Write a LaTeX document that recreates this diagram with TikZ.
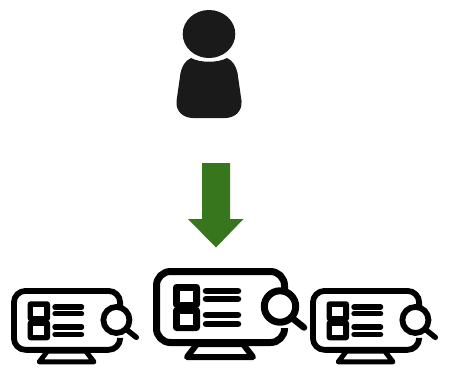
\documentclass[tikz,border=0pt]{standalone}
\definecolor{personc}{HTML}{1A1A1A}
\definecolor{arrowc}{HTML}{38761D}
\newcommand{\monitoricon}[3]{%
  \begin{scope}[shift={(#1,#2)},scale=#3]
    \pgfmathsetmacro{\ms}{#3}
    \tikzset{mline/.style={line width=\ms*7pt},sline/.style={line width=\ms*6.5pt,line cap=round}}
    \draw[mline,line join=round,rounded corners=\ms*14pt] (131.5,22) -- (131.5,3.5) -- (3.5,3.5) -- (3.5,74.5) -- (131.5,74.5) -- (131.5,60);
    \draw[line width=\ms*6pt,line join=round] (44,76) -- (90,76) -- (100,89) -- (34,89) -- cycle;
    \fill[rounded corners=\ms*3.5pt] (20,16) rectangle (47,40);
    \fill[rounded corners=\ms*3.5pt] (20,39) rectangle (47,63);
    \fill[white] (27,23) rectangle (40,34);
    \fill[white] (27,46) rectangle (40,57);
    \draw[sline] (53,23) -- (85,23);
    \draw[sline] (53,31) -- (85,31);
    \draw[sline] (53,47) -- (85,47);
    \draw[sline] (53,56) -- (85,56);
    \draw[mline,fill=white] (127,38.5) circle[radius=15.7];
    \draw[line width=\ms*6.5pt,line cap=round] (138.5,49.5) -- (151,59.5);
  \end{scope}}
\begin{document}
\begin{tikzpicture}[x=1pt,y=-1pt]
  \useasboundingbox (0,0) rectangle (449,368);
  \fill[white] (0,0) rectangle (449,368);
  % person
  \fill[personc] (209,34) ellipse[x radius=26.3,y radius=24];
  \fill[personc] (191,58) .. controls (200,63) and (218,63) .. (227,58)
    .. controls (233,61) and (236,66) .. (237.5,73)
    -- (241.5,101) .. controls (242.5,111) and (235,118) .. (225,118)
    -- (193,118) .. controls (183,118) and (175.5,111) .. (176.5,101)
    -- (180.5,73) .. controls (182,66) and (185,61) .. (191,58) -- cycle;
  % arrow
  \fill[arrowc] (202,163) -- (230,163) -- (230,219) -- (243.5,219) -- (216,247.5) -- (188,219) -- (202,219) -- cycle;
  % monitors
  \monitoricon{11}{288}{0.83}
  \monitoricon{310}{288}{0.83}
  \monitoricon{153}{268}{1}
\end{tikzpicture}
\end{document}
